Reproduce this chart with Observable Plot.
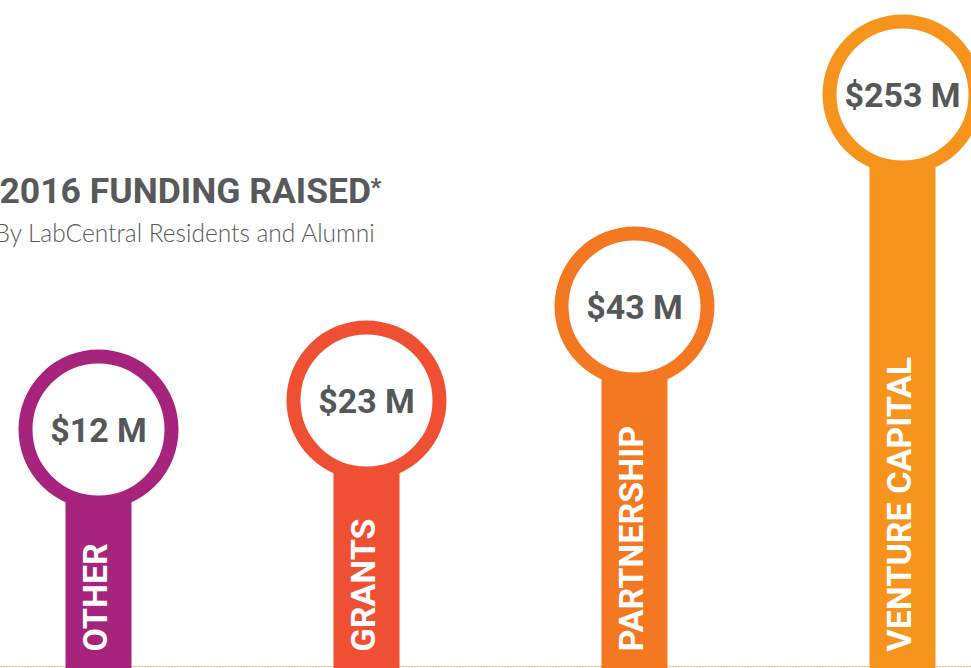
<!DOCTYPE html>
<html>
<head>
<meta charset="utf-8">
<script src="https://cdn.jsdelivr.net/npm/d3@7"></script>
<script src="https://cdn.jsdelivr.net/npm/@observablehq/plot@0.6"></script>
<style>
  html, body { margin: 0; padding: 0; background: #fff; overflow: hidden; }
  #chart svg { display: block; }
</style>
</head>
<body>
<div id="chart"></div>
<script>
const categories = ["OTHER", "GRANTS", "PARTNERSHIP", "VENTURE CAPITAL"];
const values = [12, 23, 43, 253];
const colors = ["#A6247B", "#EF5033", "#F47721", "#F7941E"];
const titleText = "2016 FUNDING RAISED";
const subtitleText = "By LabCentral Residents and Alumni";

const data = categories.map((c, i) => ({cat: c, value: values[i], color: colors[i]}));

const chart = Plot.plot({
  width: 971,
  height: 668,
  margin: 0,
  x: {type: "point", domain: categories, range: [98, 902], padding: 0, axis: null},
  y: {type: "linear", domain: [0, 12, 23, 43, 253], range: [668, 429, 400, 306, 94], axis: null},
  marks: [
    Plot.ruleY([0], {stroke: "#F7B267", strokeWidth: 1, dy: -2, strokeDasharray: "2,1"}),
    Plot.ruleX(data, {x: "cat", y1: 0, y2: "value", stroke: "color", strokeWidth: 66}),
    Plot.dot(data, {x: "cat", y: "value", r: 73, stroke: "color", strokeWidth: 14, fill: "white"}),
    Plot.text(data, {x: "cat", y: "value", text: d => `$${d.value} M`, fill: "#555759",
      fontSize: 34, fontWeight: "bold", fontFamily: "Roboto", dy: 2}),
    Plot.text(data, {x: "cat", y: 0, text: "cat", rotate: -90, textAnchor: "start",
      fill: "white", fontSize: 34, fontWeight: "bold", fontFamily: "Roboto", dy: -17, dx: -2}),
    Plot.text([titleText], {frameAnchor: "top-left", text: d => d, dx: -1, dy: 177,
      fontSize: 35.5, fontWeight: "bold", fontFamily: "Roboto", fill: "#58595B", lineAnchor: "top"}),
    Plot.text(["*"], {frameAnchor: "top-left", text: d => d, dx: 370, dy: 177,
      fontSize: 24, fontWeight: "bold", fontFamily: "Roboto", fill: "#58595B", lineAnchor: "top"}),
    Plot.text([subtitleText], {frameAnchor: "top-left", text: d => d, dx: -6, dy: 224,
      fontSize: 24.5, fontWeight: 300, fontFamily: "Lato", fill: "#58595B", lineAnchor: "top"})
  ]
});
document.getElementById("chart").appendChild(chart);
</script>
</body>
</html>
